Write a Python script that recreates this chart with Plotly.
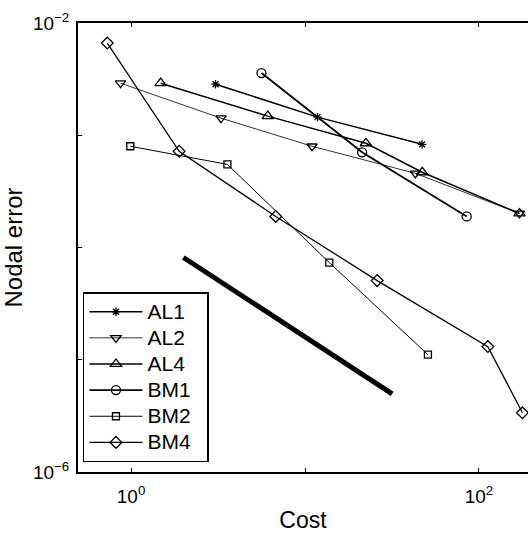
import plotly.graph_objects as go

# Data (Cost vs Nodal error, log-log)
al1_x = [3.06, 11.8, 47.1]
al1_y = [2.85e-3, 1.45e-3, 8.3e-4]
al2_x = [0.87, 3.29, 10.98, 43.1, 171]
al2_y = [2.91e-3, 1.42e-3, 7.98e-4, 4.58e-4, 2.01e-4]
al4_x = [1.48, 6.11, 22.4, 47.2, 171]
al4_y = [2.91e-3, 1.48e-3, 8.49e-4, 4.68e-4, 2.01e-4]
bm1_x = [5.62, 21.3, 85.0]
bm1_y = [3.58e-3, 7.05e-4, 1.89e-4]
bm2_x = [0.99, 3.58, 13.8, 50.9]
bm2_y = [7.98e-4, 5.5e-4, 7.34e-5, 1.11e-5]
bm4_x = [0.73, 1.89, 6.79, 26.0, 112.5, 177.8]
bm4_y = [6.63e-3, 7.2e-4, 1.89e-4, 5.07e-5, 1.31e-5, 3.37e-6]
ref_x = [2.0, 31.7]
ref_y = [8.15e-5, 4.97e-6]

x_tickvals = [1, 10, 100]
x_ticktext = ["10<sup>0</sup>", "", "10<sup>2</sup>"]
y_tickvals = [1e-6, 1e-5, 1e-4, 1e-3, 1e-2]
y_ticktext = ["10<sup>−6</sup>", "", "", "", "10<sup>−2</sup>"]

FONT = "Liberation Sans, Arial, Helvetica, sans-serif"
PAD = "\u00a0\u00a0"

series = [
    ("AL1", al1_x, al1_y, "asterisk-open", 7, 1.5),
    ("AL2", al2_x, al2_y, "triangle-down-open", 9, 0.8),
    ("AL4", al4_x, al4_y, "triangle-up-open", 10, 1.5),
    ("BM1", bm1_x, bm1_y, "circle-open", 9, 1.8),
    ("BM2", bm2_x, bm2_y, "square-open", 7, 1.0),
    ("BM4", bm4_x, bm4_y, "diamond-open", 9, 1.3),
]

fig = go.Figure()
for name, xs, ys, sym, size, lw in series:
    fig.add_trace(go.Scatter(
        x=xs, y=ys,
        name='<span style="font-size:21px">' + name + PAD + "</span>",
        mode="lines+markers",
        line=dict(color="black", width=lw),
        marker=dict(symbol=sym, size=size, color="black",
                    line=dict(color="black", width=1.3)),
    ))

fig.add_trace(go.Scatter(
    x=ref_x, y=ref_y, mode="lines", showlegend=False,
    line=dict(color="black", width=5),
))

fig.update_layout(
    width=528, height=533,
    margin=dict(l=78, r=0, t=23, b=61),
    paper_bgcolor="white", plot_bgcolor="white",
    font=dict(family=FONT, size=19, color="black"),
    showlegend=True,
    legend=dict(
        x=0.011, y=0.022, xanchor="left", yanchor="bottom",
        bordercolor="black", borderwidth=1.5, bgcolor="white",
        font=dict(family=FONT, size=17.8, color="black"),
        tracegroupgap=0, itemwidth=53,
    ),
)

fig.update_xaxes(
    type="log", range=[-0.305, 2.282],
    tickvals=x_tickvals, ticktext=x_ticktext,
    ticks="inside", ticklen=4, tickcolor="black",
    showline=True, linecolor="black", linewidth=2, mirror="ticks",
    showgrid=False, zeroline=False,
    tickfont=dict(family=FONT, size=19),
    ticklabelstandoff=6,
    title=dict(text="Cost", font=dict(family=FONT, size=23), standoff=7),
)
fig.update_yaxes(
    type="log", range=[-6, -2],
    tickvals=y_tickvals, ticktext=y_ticktext,
    ticks="inside", ticklen=4, tickcolor="black",
    showline=True, linecolor="black", linewidth=2, mirror=False,
    showgrid=False, zeroline=False,
    tickfont=dict(family=FONT, size=19),
    ticklabelstandoff=3,
    title=dict(text="Nodal error", font=dict(family=FONT, size=24), standoff=4),
)

fig.write_html("out.html")
